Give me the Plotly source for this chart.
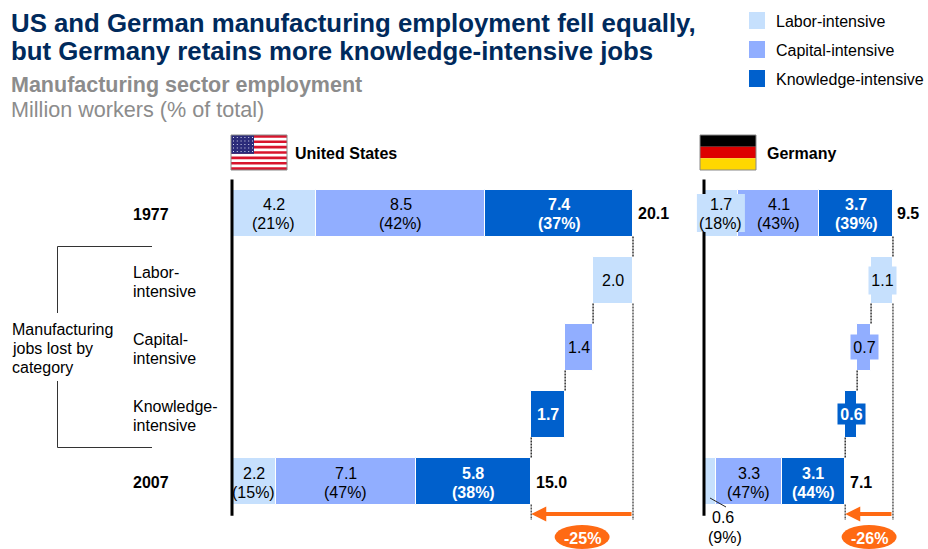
import numpy as np
import plotly.graph_objects as go

W, H = 928, 549
FONT = "Liberation Sans, Arial, sans-serif"
LIGHT, MID, DARK = "#C6E0FD", "#91AEFF", "#0060CC"
ORANGE = "#FF6A13"
NAVY = "#002A5C"

# ---- data -------------------------------------------------------------
categories = ["Labor-intensive", "Capital-intensive", "Knowledge-intensive"]
row_labels = [["1977"], ["Labor-", "intensive"], ["Capital-", "intensive"],
              ["Knowledge-", "intensive"], ["2007"]]

us_1977 = [4.2, 8.5, 7.4]
us_lost = [2.0, 1.4, 1.7]
us_2007 = [2.2, 7.0, 5.8]
us_total_1977, us_total_2007 = "20.1", "15.0"
us_1977_text = [["4.2", "(21%)"], ["8.5", "(42%)"], ["7.4", "(37%)"]]
us_lost_text = ["2.0", "1.4", "1.7"]
us_2007_text = [["2.2", "(15%)"], ["7.1", "(47%)"], ["5.8", "(38%)"]]
us_change = "-25%"

de_1977 = [1.7, 4.1, 3.7]
de_lost = [1.1, 0.7, 0.6]
de_2007 = [0.6, 3.3, 3.2]
de_total_1977, de_total_2007 = "9.5", "7.1"
de_1977_text = [["1.7", "(18%)"], ["4.1", "(43%)"], ["3.7", "(39%)"]]
de_lost_text = ["1.1", "0.7", "0.6"]
de_2007_text = [["0.6", "(9%)"], ["3.3", "(47%)"], ["3.1", "(44%)"]]
de_change = "-26%"

# ---- layout geometry (pixels) -----------------------------------------
ROW0, ROW_STEP = 213.0, 67.0
PLOT_TOP, PLOT_BOT = 170.0, 549.0
BAR_W = 47 / 67
Y_RANGE = [(PLOT_BOT - ROW0) / ROW_STEP, (PLOT_TOP - ROW0) / ROW_STEP]
panels = [
    dict(x="x", y="y", x0=232.0, scale=19.95, left=215.0, right=670.0,
         a=us_1977, l=us_lost, b=us_2007, at=us_1977_text, lt=us_lost_text, bt=us_2007_text,
         ta=us_total_1977, tb=us_total_2007, change=us_change),
    dict(x="x2", y="y2", x0=704.0, scale=19.89, left=690.0, right=928.0,
         a=de_1977, l=de_lost, b=de_2007, at=de_1977_text, lt=de_lost_text, bt=de_2007_text,
         ta=de_total_1977, tb=de_total_2007, change=de_change),
]

fig = go.Figure()
colors = [LIGHT, MID, DARK]
text_colors = ["black", "black", "white"]
shapes, annos = [], []


def px(x):
    return x / W


def py(y):
    return 1 - y / H


def page_text(x, y, text, size=16, color="black", bold=False, anchor="left"):
    annos.append(dict(xref="paper", yref="paper", x=px(x), y=py(y), text=f"<b>{text}</b>" if bold else text,
                      showarrow=False, xanchor=anchor, yanchor="middle",
                      font=dict(family=FONT, size=size, color=color), borderpad=0))


def page_rect(x0, y0, x1, y1, fill, line=None, kind="rect"):
    shapes.append(dict(type=kind, xref="paper", yref="paper", x0=px(x0), x1=px(x1), y0=py(y0), y1=py(y1),
                       fillcolor=fill, line=dict(width=1 if line else 0, color=line or fill), layer="above"))


def page_line(x0, y0, x1, y1, color="#333333", width=1):
    shapes.append(dict(type="line", xref="paper", yref="paper", x0=px(x0), x1=px(x1), y0=py(y0), y1=py(y1),
                       line=dict(color=color, width=width)))


for p in panels:
    a, l, b = np.array(p["a"]), np.array(p["l"]), np.array(p["b"])
    a_base = np.concatenate([[0], np.cumsum(a)[:-1]])
    b_base = np.concatenate([[0], np.cumsum(b)[:-1]])
    total_a, total_b = a.sum(), b.sum()
    # waterfall: labor comes off the 1977 total first, then capital, then knowledge
    l_base = total_a - np.cumsum(l)
    for i in range(3):
        fig.add_trace(go.Bar(
            x=[a[i], l[i], b[i]], y=[0, i + 1, 4], base=[a_base[i], l_base[i], b_base[i]],
            width=BAR_W, orientation="h", name=categories[i], showlegend=False,
            marker=dict(color=colors[i], line=dict(color="white", width=1)),
            xaxis=p["x"], yaxis=p["y"], hoverinfo="skip"))

    xr, yr = p["x"], p["y"]
    half = BAR_W / 2

    def vline(x, r0, r1, color="#333333"):
        shapes.append(dict(type="line", xref=xr, yref=yr, x0=x, x1=x, y0=r0, y1=r1,
                           line=dict(color=color, width=1.5, dash="2px,1px")))

    # connectors between waterfall rows
    vline(total_a, half, 1 - half)
    for i in range(3):
        vline(l_base[i], i + 1 + half, i + 2 - half)
    # drop lines to the arrow
    END = (520 - ROW0) / ROW_STEP
    vline(total_a, 1 + half, END, "#555555")
    vline(total_b, 4 + half, END, "#555555")
    # heavy baseline
    shapes.append(dict(type="line", xref=xr, yref=yr, x0=0, x1=0, y0=-0.5, y1=4.52,
                       line=dict(color="black", width=3)))

    def val_text(x, row, text, color="black", bold=False, dy=0, anchor="center", **kw):
        annos.append(dict(xref=xr, yref=yr, x=x, y=row, text=f"<b>{text}</b>" if bold else text,
                          showarrow=False, xanchor=anchor, yanchor="middle", yshift=dy, borderpad=0,
                          font=dict(family=FONT, size=16, color=color), **kw))

    # two-line value labels in the 1977 and 2007 rows
    for i in range(3):
        for row, base, vals, txt in ((0, a_base, a, p["at"]), (4, b_base, b, p["bt"])):
            if p["x"] == "x2" and row == 4 and i == 0:
                continue  # German 0.6 label sits under the bar with a leader
            cx = base[i] + vals[i] / 2
            if p["x"] == "x2" and row == 0 and i == 0:
                w = 48 / p["scale"]
                shapes.append(dict(type="rect", xref=xr, yref=yr, x0=cx - w / 2, x1=cx + w / 2,
                                   y0=-19 / ROW_STEP, y1=19 / ROW_STEP, fillcolor=LIGHT,
                                   line=dict(width=0), layer="above"))
            val_text(cx, row, txt[i][0], text_colors[i], bold=i == 2, dy=8)
            val_text(cx, row, txt[i][1], text_colors[i], bold=i == 2, dy=-11)

    # loss labels
    box = {0: (27, 27), 1: (27, 24), 2: (27, 20)}
    for i in range(3):
        extra = {}
        if p["x"] == "x2":
            extra = dict(bgcolor=colors[i], width=box[i][0], height=box[i][1])
        val_text(l_base[i] + l[i] / 2, i + 1, p["lt"][i], text_colors[i], bold=i == 2, dy=0, **extra)

    # totals
    val_text(total_a + 3.5 / p["scale"], 0, p["ta"], bold=True, anchor="left", dy=-1)
    val_text(total_b + 4 / p["scale"], 4, p["tb"], bold=True, anchor="left", dy=-1)

    # change arrow
    arrow_y = (514 - ROW0) / ROW_STEP
    annos.append(dict(xref=xr, yref=yr, axref=xr, ayref=yr, x=total_b, y=arrow_y, ax=total_a, ay=arrow_y,
                      text="", showarrow=True, arrowhead=2, arrowsize=0.75, arrowwidth=4, arrowcolor=ORANGE,
                      standoff=0, startstandoff=0))
    # change bubble
    cx = (total_a + total_b) / 2
    rx = 27.5 / p["scale"]
    shapes.append(dict(type="circle", xref=xr, yref=yr, x0=cx - rx, x1=cx + rx,
                       y0=(525 - ROW0) / ROW_STEP, y1=(549 - ROW0) / ROW_STEP,
                       fillcolor=ORANGE, line=dict(width=0), layer="above"))
    annos.append(dict(xref=xr, yref=yr, x=cx, y=(538 - ROW0) / ROW_STEP, text=f"<b>{p['change']}</b>",
                      showarrow=False, xanchor="center", yanchor="middle", borderpad=0,
                      font=dict(family=FONT, size=16, color="white")))

    # x axis
    key = "xaxis" if p["x"] == "x" else "xaxis2"
    fig.update_layout(**{key: dict(domain=[px(p["left"]), px(p["right"])],
                                   range=[(p["left"] - p["x0"]) / p["scale"], (p["right"] - p["x0"]) / p["scale"]],
                                   visible=False, fixedrange=True, anchor=p["y"])})
    key = "yaxis" if p["y"] == "y" else "yaxis2"
    fig.update_layout(**{key: dict(domain=[py(PLOT_BOT), py(PLOT_TOP)], range=Y_RANGE, visible=False,
                                   fixedrange=True, anchor=p["x"])})

# German 0.6 (9%) label with leader
p = panels[1]
page_line(710, 498, 726, 507, "#222222", 1)
page_text(723, 517, de_2007_text[0][0], anchor="center")
page_text(725, 537, de_2007_text[0][1], anchor="center")

# ---- title block --------------------------------------------------------
page_text(10, 22.5, "US and German manufacturing employment fell equally,", 25.8, NAVY, True)
page_text(10, 51.5, "but Germany retains more knowledge-intensive jobs", 25.8, NAVY, True)
page_text(10, 84.5, "Manufacturing sector employment", 21.5, "#8C8C8C", True)
page_text(10, 110, "Million workers (% of total)", 21.6, "#8C8C8C")

# ---- legend ---------------------------------------------------------------
for i, (name, col) in enumerate(zip(categories, colors)):
    y0 = 12 + 29 * i
    page_rect(749, y0, 765, y0 + 17, col)
    page_text(775, y0 + 9.5, name)

# ---- row labels and bracket ------------------------------------------------
for i, lines in enumerate(row_labels):
    yc = ROW0 + ROW_STEP * i
    if len(lines) == 1:
        page_text(132, yc + 1, lines[0], bold=True)
    else:
        page_text(132, yc - 8, lines[0])
        page_text(132, yc + 11, lines[1])

for i, t in enumerate(["Manufacturing", "jobs lost by", "category"]):
    page_text(11, 329 + 19 * i, t)
page_line(152, 246.5, 57.5, 246.5)
page_line(57.5, 246.5, 57.5, 313)
page_line(57.5, 381, 57.5, 447.5)
page_line(57.5, 447.5, 152, 447.5)

# ---- flags ------------------------------------------------------------------
FX, FY, FW, FH = 231.0, 135.0, 56.0, 35.0
page_rect(FX, FY, FX + FW, FY + FH, "white")
for s in range(13):
    if s % 2 == 0:
        y0 = FY + FH * s / 13
        page_rect(FX, y0, FX + FW, y0 + FH / 13, "#D8142C")
page_rect(FX, FY, FX + 23, FY + FH * 7 / 13, "#2B2B7A")
for r in range(5):
    for c in range(6):
        sx = FX + 2 + c * 3.8
        sy = FY + 2 + r * 3.5
        page_rect(sx, sy, sx + 1, sy + 1, "#D9D9EE")
shapes.append(dict(type="rect", xref="paper", yref="paper", x0=px(FX), x1=px(FX + FW), y0=py(FY), y1=py(FY + FH),
                   line=dict(color="#888888", width=1), layer="above"))

GX = 700.0
for s, col in enumerate(["#000000", "#DD0000", "#FFD700"]):
    y0 = FY + FH * s / 3
    page_rect(GX, y0, GX + FW, y0 + FH / 3, col)
shapes.append(dict(type="rect", xref="paper", yref="paper", x0=px(GX), x1=px(GX + FW), y0=py(FY), y1=py(FY + FH),
                   line=dict(color="#888888", width=1), layer="above"))

page_text(294, 153, "United States", bold=True)
page_text(766, 153, "Germany", bold=True)

fig.update_layout(
    width=W, height=H, autosize=False, margin=dict(l=0, r=0, t=0, b=0),
    paper_bgcolor="white", plot_bgcolor="rgba(0,0,0,0)", barmode="overlay", bargap=0,
    showlegend=False, shapes=shapes, annotations=annos, font=dict(family=FONT),
)
fig.write_html("out.html", config=dict(displayModeBar=False),
               post_script="document.body.style.margin='0';document.body.style.overflow='hidden';")
